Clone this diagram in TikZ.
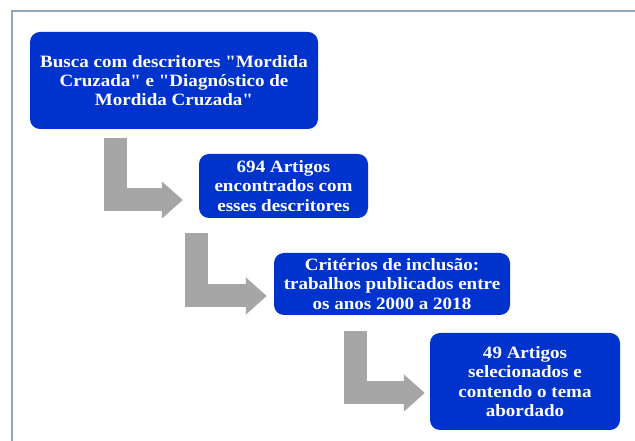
\documentclass[tikz,border=0pt]{standalone}
\usepackage{fontspec}
\setmainfont{Liberation Serif}[FakeStretch=1.1, Ligatures=TeXOff]
\usepackage{xcolor}
\usetikzlibrary{arrows.meta,positioning,calc}

\definecolor{boxblue}{RGB}{0,51,204}
\definecolor{arrowgray}{RGB}{166,166,166}
\definecolor{framegray}{RGB}{143,164,192}

\tikzset{
    stepbox/.style={draw=none, fill=boxblue, rounded corners=10pt, text=white,
        align=center, font=\fontsize{17.3}{19.3}\selectfont\bfseries, inner sep=0pt},
    bentarrow/.style={draw=arrowgray, line width=23pt, line join=miter,
        -{Triangle[length=21pt,width=36pt]}}
}

\begin{document}
\begin{tikzpicture}[x=1pt, y=1pt]
    \useasboundingbox (0,0) rectangle (635,441);
    % Frame
    \draw[framegray, line width=1.5pt] (12,0) -- (12,430) -- (635,430);

    % Steps
    \node[stepbox, minimum width=288pt, minimum height=97pt] (busca) at (174,360.5)
        {Busca com descritores "Mordida\\Cruzada" e "Diagnóstico de\\Mordida Cruzada"};
    \node[stepbox, minimum width=169pt, minimum height=64pt] (encontrados) at (283.5,255)
        {694 Artigos\\encontrados com\\esses descritores};
    \node[stepbox, minimum width=236pt, minimum height=62pt] (criterios) at (392,157)
        {Critérios de inclusão:\\trabalhos publicados entre\\os anos 2000 a 2018};
    \node[stepbox, minimum width=190pt, minimum height=97pt] (selecionados) at (525,59.5)
        {49 Artigos\\selecionados e\\contendo o tema\\abordado};

    % Bent arrows
    \draw[bentarrow] ([shift={(86,-9)}]busca.south west) |- ([shift={(-16,-14)}]encontrados.west);
    \draw[bentarrow] ([shift={(-2,-15)}]encontrados.south west) |- ([shift={(-7,-12)}]criterios.west);
    \draw[bentarrow] ([shift={(82,-16)}]criterios.south west) |- ([shift={(-5,-11.5)}]selecionados.west);
\end{tikzpicture}
\end{document}
